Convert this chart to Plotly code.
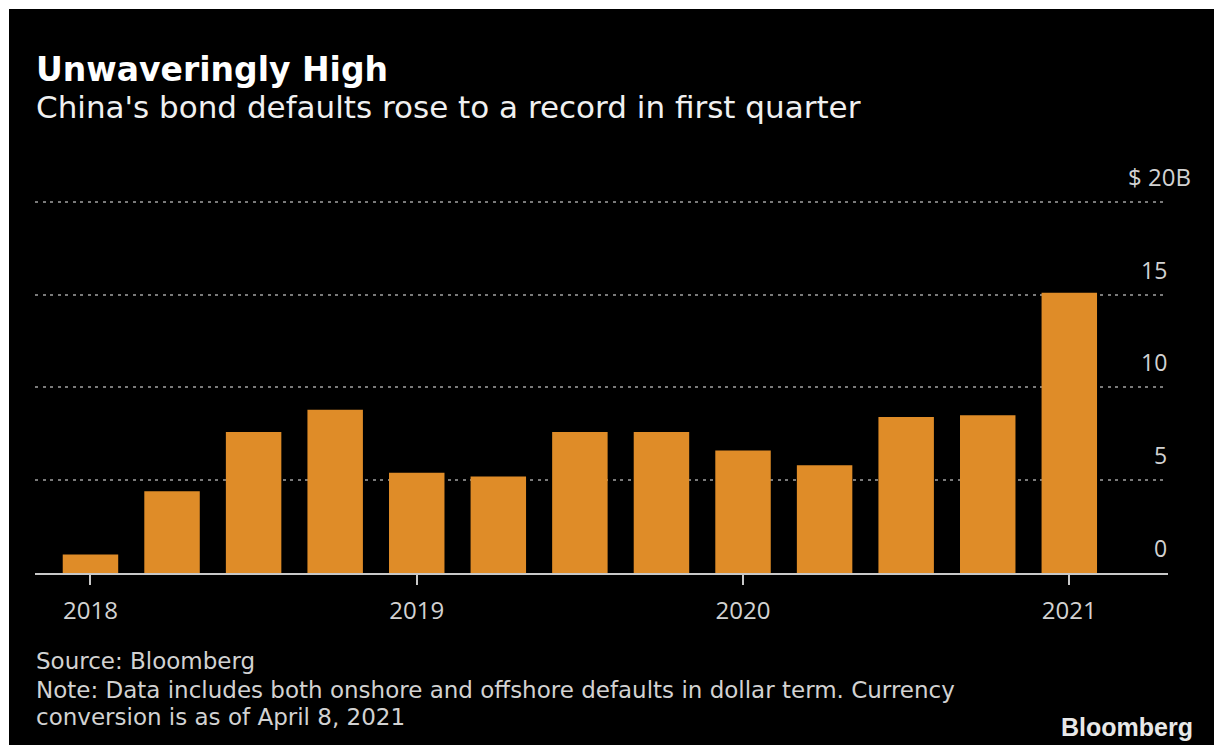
import plotly.graph_objects as go

# Quarterly bond default totals (USD billions)
quarters = ["2018 Q1", "2018 Q2", "2018 Q3", "2018 Q4",
            "2019 Q1", "2019 Q2", "2019 Q3", "2019 Q4",
            "2020 Q1", "2020 Q2", "2020 Q3", "2020 Q4",
            "2021 Q1"]
defaults_bn = [1.0, 4.4, 7.6, 8.8, 5.4, 5.2, 7.6, 7.6, 6.6, 5.8, 8.4, 8.5, 15.1]

year_ticks = ["2018 Q1", "2019 Q1", "2020 Q1", "2021 Q1"]
year_labels = ["2018", "2019", "2020", "2021"]
y_ticks = [0, 5, 10, 15, 20]
y_labels = ["0", "5", "10", "15", "$ 20B"]

BAR = "#DF8C28"
TEXT = "#D2D2D2"
TICK_FONT = "Open Sans"
TEXT_FONT = "DejaVu Sans"

W, H = 1214, 745
L, R, T, B = 35, 46, 200, 172
plot_w = W - L - R
plot_h = H - T - B


def px_x(px):
    return (px - L) / plot_w


def px_y(py):
    return (H - B - py) / plot_h


fig = go.Figure(
    go.Bar(x=quarters, y=defaults_bn, marker=dict(color=BAR, line=dict(width=0)),
           hoverinfo="x+y")
)

fig.update_layout(
    width=W, height=H,
    margin=dict(l=L, r=R, t=T, b=B),
    paper_bgcolor="#000000",
    plot_bgcolor="#000000",
    bargap=0.32,
    showlegend=False,
    font=dict(family=TICK_FONT, color=TEXT),
)

fig.update_xaxes(
    type="category",
    range=[-0.68, 13.21],
    tickmode="array", tickvals=year_ticks, ticktext=year_labels,
    ticks="outside", ticklen=10, tickwidth=2, tickcolor="#C8C8C8",
    ticklabelstandoff=5,
    tickfont=dict(size=24, color=TEXT, family=TICK_FONT),
    showline=True, linecolor="#C8C8C8", linewidth=2,
    showgrid=False, zeroline=False,
)

fig.update_yaxes(
    range=[0, 20.1],
    tickmode="array", tickvals=y_ticks[1:],
    showticklabels=False,
    showgrid=True, gridcolor="#7A7A7A", gridwidth=2, griddash="3px,4.5px",
    zeroline=False, showline=False,
)

# Right-hand value labels sitting above each gridline
for v, lab in zip(y_ticks, y_labels):
    fig.add_annotation(
        x=px_x(1193) if v == 20 else px_x(1169), xref="paper", xanchor="right",
        y=v, yref="y", yanchor="middle", yshift=25,
        text=lab, showarrow=False,
        font=dict(size=24 if v == 20 else 23, color=TEXT, family=TICK_FONT),
    )

# Headline and subtitle
fig.add_annotation(x=px_x(34), xref="paper", xanchor="left",
                   y=px_y(69), yref="paper", yanchor="middle",
                   text="<b>Unwaveringly High</b>", showarrow=False,
                   font=dict(size=33, color="#FFFFFF", family=TEXT_FONT))
fig.add_annotation(x=px_x(34), xref="paper", xanchor="left",
                   y=px_y(107), yref="paper", yanchor="middle",
                   text="China's bond defaults rose to a record in first quarter",
                   showarrow=False,
                   font=dict(size=31, color="#F0F0F0", family=TEXT_FONT))

# Footer notes
footer = [
    ("Source: Bloomberg", 661),
    ("Note: Data includes both onshore and offshore defaults in dollar term. Currency", 690),
    ("conversion is as of April 8, 2021", 717),
]
for txt, py in footer:
    fig.add_annotation(x=px_x(34), xref="paper", xanchor="left",
                       y=px_y(py), yref="paper", yanchor="middle",
                       text=txt, showarrow=False,
                       font=dict(size=23, color=TEXT, family=TEXT_FONT))

fig.add_annotation(x=px_x(1195), xref="paper", xanchor="right",
                   y=px_y(727), yref="paper", yanchor="middle",
                   text="<b>Bloomberg</b>", showarrow=False,
                   font=dict(size=25, color="#E8E8E8", family="Liberation Sans"))

# Light frame strips along the top and left edges
fig.add_shape(type="rect", xref="paper", yref="paper",
              x0=px_x(-5), x1=px_x(W + 5), y0=px_y(9), y1=px_y(-5),
              fillcolor="#FFFFFF", line=dict(width=0), layer="above")
fig.add_shape(type="rect", xref="paper", yref="paper",
              x0=px_x(-5), x1=px_x(9), y0=px_y(H + 5), y1=px_y(-5),
              fillcolor="#FFFFFF", line=dict(width=0), layer="above")

fig.write_html("out.html")
